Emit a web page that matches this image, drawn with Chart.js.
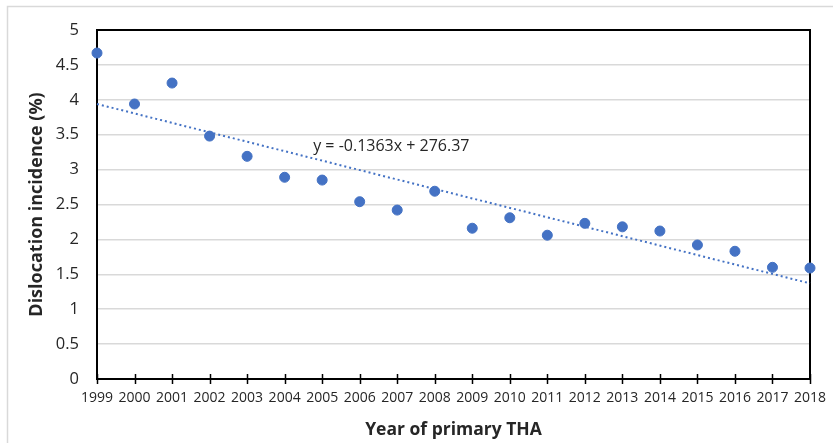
<!DOCTYPE html>
<html>
<head>
<meta charset="utf-8">
<script src="https://cdn.jsdelivr.net/npm/chart.js@4/dist/chart.umd.min.js"></script>
<style>
    html, body { margin: 0; padding: 0; background: #fff; }
    #wrap { width: 833px; height: 443px; position: relative; }
</style>
</head>
<body>
<div id="wrap"><canvas id="chart" width="833" height="443"></canvas></div>
<script>
// Data
const years = [1999, 2000, 2001, 2002, 2003, 2004, 2005, 2006, 2007, 2008,
               2009, 2010, 2011, 2012, 2013, 2014, 2015, 2016, 2017, 2018];
const incidence = [4.67, 3.94, 4.24, 3.48, 3.19, 2.89, 2.85, 2.54, 2.42, 2.69,
                   2.16, 2.31, 2.06, 2.23, 2.18, 2.12, 1.92, 1.83, 1.60, 1.59];
// Trend line ends, as drawn in the picture
const trendYears = [1999, 2018];
const trendValues = [3.94, 1.37];
const trendLabel = "y = -0.1363x + 276.37";
const yTicks = [0, 0.5, 1, 1.5, 2, 2.5, 3, 3.5, 4, 4.5, 5];

const blue = "#4472C4";
const textColor = "#262626";
const font = "'Open Sans', 'DejaVu Sans', sans-serif";

// Function to zip two arrays into {x, y} points
function toPoints(xs, ys) {
    return xs.map((x, i) => ({ x: x, y: ys[i] }));
}

// Frame, tick marks and the equation text
const decorations = {
    id: "decorations",
    beforeDraw(chart) {
        const ctx = chart.ctx;
        ctx.save();
        ctx.fillStyle = "#fff";
        ctx.fillRect(0, 0, chart.width, chart.height);
        ctx.strokeStyle = "#d9d9d9";
        ctx.lineWidth = 1.5;
        ctx.strokeRect(7.5, 6.5, 1000, 1000);
        ctx.restore();
    },
    beforeDatasetsDraw(chart) {
        const ctx = chart.ctx;
        const a = chart.chartArea;
        const xs = chart.scales.x;
        ctx.save();
        ctx.strokeStyle = "#000";
        ctx.lineWidth = 2;
        ctx.strokeRect(a.left, a.top, a.right - a.left, a.bottom - a.top);
        ctx.lineWidth = 1.5;
        years.forEach(yr => {
            const px = Math.round(xs.getPixelForValue(yr)) + 0.5;
            ctx.beginPath();
            ctx.moveTo(px, a.bottom - 5);
            ctx.lineTo(px, a.bottom + 5);
            ctx.stroke();
        });
        // equation label
        const lx = xs.getPixelForValue(2004.76);
        const ly = chart.scales.y.getPixelForValue(3.33);
        ctx.fillStyle = textColor;
        ctx.font = "16px " + font;
        ctx.textAlign = "left";
        ctx.textBaseline = "middle";
        ctx.fillText(trendLabel, lx, ly);
        ctx.restore();
    }
};

new Chart(document.getElementById("chart"), {
    type: "scatter",
    data: {
        datasets: [
            {
                type: "line",
                data: toPoints(trendYears, trendValues),
                borderColor: blue,
                borderWidth: 2,
                borderDash: [2, 3],
                pointRadius: 0,
                fill: false,
                clip: false
            },
            {
                data: toPoints(years, incidence),
                backgroundColor: blue,
                borderColor: blue,
                pointRadius: 5,
                clip: false
            }
        ]
    },
    options: {
        responsive: false,
        animation: false,
        devicePixelRatio: 1,
        layout: { padding: { left: 22, top: 30, right: 23, bottom: 0 } },
        plugins: { legend: { display: false }, tooltip: { enabled: false } },
        scales: {
            x: {
                type: "linear",
                min: 1999,
                max: 2018,
                afterBuildTicks: axis => { axis.ticks = years.map(v => ({ value: v })); },
                afterFit: axis => {
                    axis.height = 64;
                    axis.paddingLeft = 0;
                    axis.paddingRight = 0;
                },
                grid: { display: false, drawTicks: false },
                border: { display: false },
                ticks: {
                    padding: 11,
                    maxRotation: 0,
                    autoSkip: false,
                    color: textColor,
                    font: { family: font, size: 14 },
                    callback: v => String(v)
                },
                title: {
                    display: true,
                    text: "Year of primary THA",
                    color: textColor,
                    font: { family: font, size: 17.5, weight: "bold" },
                    padding: { top: 0, bottom: 2 }
                }
            },
            y: {
                min: 0,
                max: 5,
                afterBuildTicks: axis => { axis.ticks = yTicks.map(v => ({ value: v })); },
                afterFit: axis => { axis.width = 75; },
                grid: { color: "#d9d9d9", lineWidth: 1.5, drawTicks: false },
                border: { display: false },
                ticks: {
                    padding: 18,
                    color: textColor,
                    font: { family: font, size: 16.5 },
                    callback: v => String(v)
                },
                title: {
                    display: true,
                    text: "Dislocation incidence (%)",
                    color: textColor,
                    font: { family: font, size: 18, weight: "bold" },
                    padding: { top: 4, bottom: 0 }
                }
            }
        }
    },
    plugins: [decorations]
});
</script>
</body>
</html>
